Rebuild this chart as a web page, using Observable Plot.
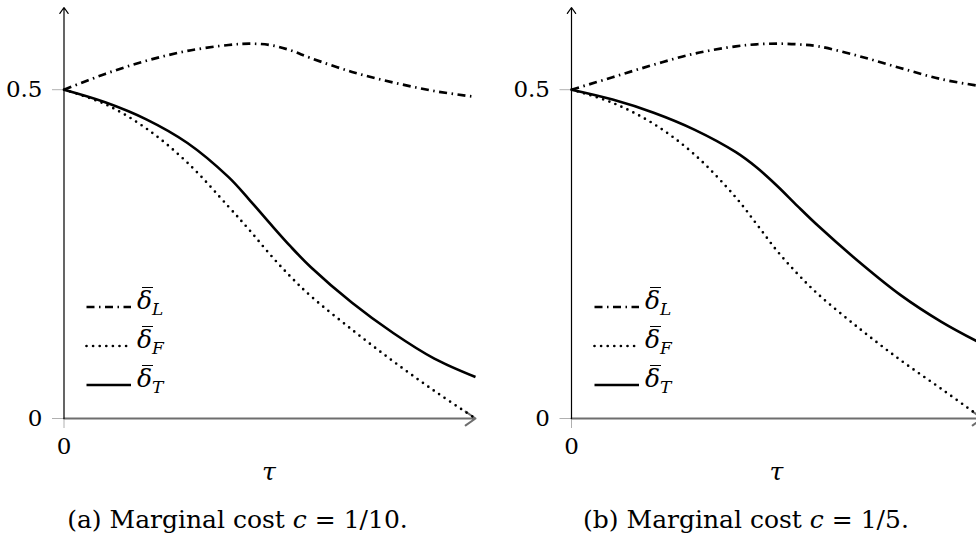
<!DOCTYPE html>
<html><head><meta charset="utf-8">
<script src="https://cdn.jsdelivr.net/npm/d3@7"></script>
<script src="https://cdn.jsdelivr.net/npm/@observablehq/plot@0.6"></script>
<style>
body{margin:0;width:976px;height:539px;overflow:hidden;position:relative;background:#fff;font-family:"DejaVu Serif",serif;color:#000}
.panel{position:absolute;top:0}
.panel svg{max-width:none!important}
.ov{position:absolute;white-space:nowrap;line-height:1}
.lab{font-size:25px}
.db{position:relative;display:inline-block;font-style:italic}
.db::before{content:"";position:absolute;left:5px;width:11px;top:-1px;border-top:1.6px solid #000}
.lab sub{font-size:17px;font-style:italic;vertical-align:baseline;position:relative;top:6px;margin-left:0px}
.cap{font-size:25px;text-align:center;width:460px}
.tau{font-size:25px;font-style:italic;text-align:center;width:40px}
</style></head><body>
<div id="pa" class="panel" style="left:0;width:490px"></div>
<div id="pb" class="panel" style="left:490px;width:500px"></div>
<script>
// shared tau grid
const tau = [0, 0.1, 0.2, 0.3, 0.4, 0.45, 0.5, 0.55, 0.6, 0.7, 0.8, 0.9, 1.0];
// (a) c = 1/10
const aL = [0.5, 0.524, 0.544, 0.559, 0.568, 0.570, 0.568, 0.560, 0.548, 0.527, 0.511, 0.498, 0.489];
const aF = [0.5, 0.478, 0.441, 0.389, 0.322, 0.287, 0.250, 0.216, 0.186, 0.135, 0.087, 0.042, 0.0];
const aT = [0.5, 0.481, 0.455, 0.419, 0.367, 0.333, 0.297, 0.262, 0.230, 0.176, 0.130, 0.091, 0.063];
// (b) c = 1/5
const bL = [0.5, 0.519, 0.538, 0.555, 0.566, 0.569, 0.570, 0.569, 0.566, 0.551, 0.533, 0.516, 0.505];
const bF = [0.5, 0.480, 0.448, 0.401, 0.336, 0.296, 0.255, 0.220, 0.189, 0.137, 0.089, 0.045, 0.0];
const bT = [0.5, 0.485, 0.465, 0.439, 0.405, 0.382, 0.354, 0.323, 0.293, 0.238, 0.188, 0.147, 0.113];

const yTicks = [0, 0.5];
const yTickLabels = ["0", "0.5"];
const xTicks = [0];
const xTickLabels = ["0"];
const yMax = 0.625;
const seriesNames = ["L", "F", "T"];
const dashes = {L: "8,4.5,1.5,4.5", F: "0,6.6", T: null};
const widths = {L: 2.7, F: 2.7, T: 2.6};
const captions = ["(a) Marginal cost <i>c</i> = 1/10.", "(b) Marginal cost <i>c</i> = 1/5."];

function makePanel(L, F, T, width, marginLeft, marginRight) {
  const rows = (arr) => tau.map((t, i) => ({t, v: arr[i]}));
  const series = {L, F, T};
  return Plot.plot({
    width, height: 490, marginLeft, marginRight, marginTop: 7, marginBottom: 72,
    x: {domain: [0, 1], label: null},
    y: {domain: [0, yMax], label: null},
    style: {fontFamily: "DejaVu Serif", fontSize: "23px", color: "black", background: "transparent", overflow: "visible"},
    marks: [
      Plot.axisY(yTicks, {tickSize: 11.5, tickPadding: 10, stroke: "#b0b0b0", fill: "black", fontSize: 23, label: null,
        tickFormat: (d) => yTickLabels[yTicks.indexOf(d)]}),
      Plot.axisX(xTicks, {tickSize: 10, tickPadding: 9, stroke: "#b0b0b0", fill: "black", fontSize: 23, label: null,
        tickFormat: (d) => xTickLabels[xTicks.indexOf(d)]}),
      Plot.arrow([{x1: 0, y1: 0, x2: 1, y2: 0}], {x1: "x1", y1: "y1", x2: "x2", y2: "y2", stroke: "#6e6e6e", strokeWidth: 2, headLength: 9, headAngle: 70}),
      Plot.arrow([{x1: 0, y1: 0, x2: 0, y2: yMax}], {x1: "x1", y1: "y1", x2: "x2", y2: "y2", stroke: "black", strokeWidth: 1.2, headLength: 9, headAngle: 70}),
      ...seriesNames.map((s) => Plot.line(rows(series[s]), {
        x: "t", y: "v", curve: "catmull-rom", stroke: "black",
        strokeWidth: widths[s],
        strokeDasharray: dashes[s],
        strokeLinecap: s === "F" ? "round" : "butt"
      }))
    ]
  });
}

document.getElementById("pa").append(makePanel(aL, aF, aT, 490, 63.5, 15));
document.getElementById("pb").append(makePanel(bL, bF, bT, 500, 81, 8));

function addOverlay(html, cls, left, top) {
  const d = document.createElement("div");
  d.className = "ov " + cls;
  d.style.left = left + "px";
  d.style.top = top + "px";
  d.innerHTML = html;
  document.body.append(d);
  return d;
}

// legends
const legendX = [85, 593];
const rowY = [302, 341, 380];
legendX.forEach((lx) => {
  seriesNames.forEach((s, i) => {
    const y = rowY[i];
    const dash = dashes[s] ? `stroke-dasharray="${dashes[s]}"` : "";
    const cap = s === "F" ? `stroke-linecap="round"` : "";
    addOverlay(`<svg width="48" height="8"><line x1="1.5" x2="46" y1="4" y2="4" stroke="black" stroke-width="${widths[s]}" ${dash} ${cap}/></svg>`, "", lx, y - 4);
    addOverlay(`<span class="db">δ</span><sub>${s}</sub>`, "lab", lx + 52, y + 7 - 21.2);
  });
});

// tau labels
[269, 776.5].forEach((cx) => addOverlay("τ", "tau", cx - 20, 459));
// captions
[237.5, 746].forEach((cx, i) => addOverlay(captions[i], "cap", cx - 230, 507));
</script>
</body></html>
